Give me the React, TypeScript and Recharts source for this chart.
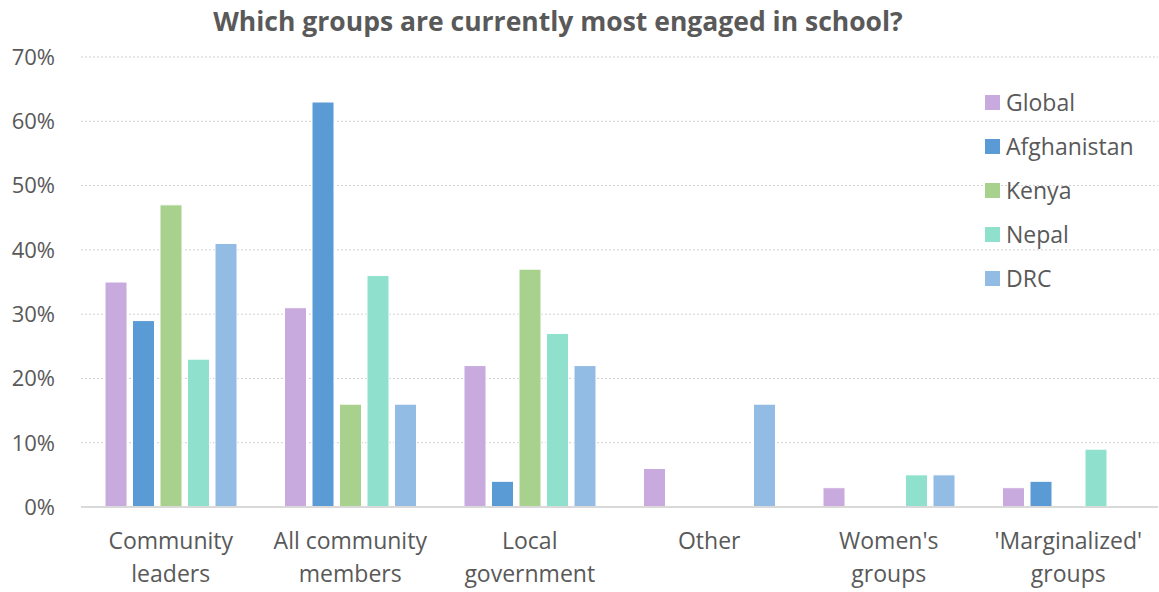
import { BarChart, Bar, XAxis, YAxis, CartesianGrid } from 'recharts';

const categories = ['Community\nleaders', 'All community\nmembers', 'Local\ngovernment', 'Other', "Women's\ngroups", "'Marginalized'\ngroups"];
const seriesNames = ['Global', 'Afghanistan', 'Kenya', 'Nepal', 'DRC'];
const seriesColors = ['#C8AADE', '#5B9BD5', '#A9D18E', '#8FE1CD', '#93BCE4'];
const globalVals = [35, 31, 22, 6, 3, 3];
const afghanistanVals = [29, 63, 4, 0, 0, 4];
const kenyaVals = [47, 16, 37, 0, 0, 0];
const nepalVals = [23, 36, 27, 0, 5, 9];
const drcVals = [41, 16, 22, 16, 5, 0];
const yTicks = [0, 10, 20, 30, 40, 50, 60, 70];

const allVals = [globalVals, afghanistanVals, kenyaVals, nepalVals, drcVals];
const data = categories.map((c, i) => {
  const row: Record<string, string | number> = { cat: c };
  seriesNames.forEach((s, j) => { row[s] = allVals[j][i]; });
  return row;
});

const TEXT = '#595959';
const FONT = '"Open Sans", sans-serif';

function CatTick({ x, y, payload }: { x?: number; y?: number; payload?: { value: string } }) {
  const lines = (payload?.value ?? '').split('\n');
  return (
    <text x={x} y={(y ?? 0) + 42} textAnchor="middle" fill={TEXT} fontSize={23} fontFamily={FONT}>
      {lines.map((l, i) => (
        <tspan key={i} x={x} dy={i === 0 ? 0 : 33}>{l}</tspan>
      ))}
    </text>
  );
}

export default function App() {
  return (
    <div style={{ position: 'absolute', left: 0, top: 0, width: 1159, height: 592, background: '#fff', fontFamily: FONT }}>
      <div style={{ position: 'absolute', left: 0, width: 1116, top: 3, textAlign: 'center', fontSize: 26.5, fontWeight: 700, color: TEXT }}>
        Which groups are currently most engaged in school?
      </div>
      <BarChart width={1159} height={592} data={data} margin={{ top: 57, right: 1, bottom: 0, left: 0 }}
        barCategoryGap={24} barGap={5.5} barSize={22}>
        <CartesianGrid vertical={false} stroke="#d0d0d0" strokeDasharray="2 2" />
        <XAxis dataKey="cat" height={85} tickLine={false} tickSize={0} tickMargin={0}
          axisLine={{ stroke: '#d9d9d9', strokeWidth: 2 }} tick={<CatTick />} interval={0} />
        <YAxis width={81} domain={[0, 70]} ticks={yTicks} tickFormatter={v => `${v}%`} axisLine={false}
          tickLine={false} tickSize={0} tickMargin={26}
          tick={{ fill: TEXT, fontSize: 22, fontFamily: FONT }} />
        {seriesNames.map((s, i) => (
          <Bar key={s} dataKey={s} fill={seriesColors[i]} stroke="#fff" strokeWidth={1} isAnimationActive={false} />
        ))}
      </BarChart>
      <div style={{ position: 'absolute', left: 985, top: 80 }}>
        {seriesNames.map((s, i) => (
          <div key={s} style={{ display: 'flex', alignItems: 'center', height: 44 }}>
            <span style={{ width: 15, height: 15, background: seriesColors[i], display: 'inline-block', marginRight: 6 }}></span>
            <span style={{ fontSize: 23, color: TEXT, lineHeight: '30px' }}>{s}</span>
          </div>
        ))}
      </div>
    </div>
  );
}
